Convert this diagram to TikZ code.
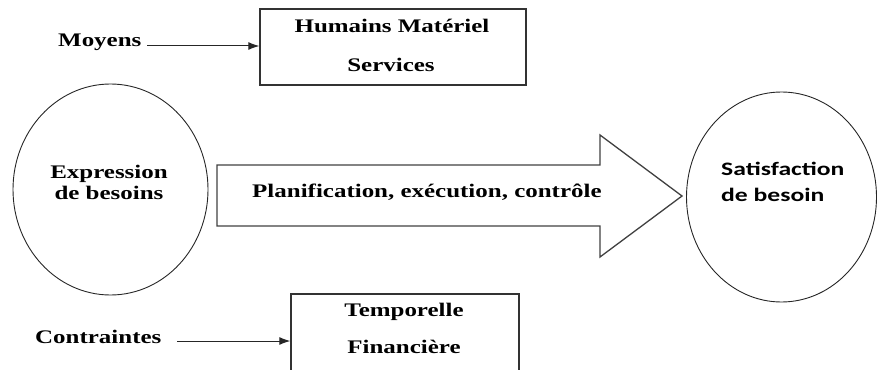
\documentclass[tikz,border=0pt]{standalone}
\usepackage{fontspec}
\setmainfont{Liberation Serif}[FakeStretch=1.3]
\newfontfamily\calib{Carlito}[FakeStretch=1.35]
\usetikzlibrary{arrows.meta,shapes.geometric}
\begin{document}
\begin{tikzpicture}[x=1pt,y=-1pt,
  lbl/.style={inner sep=0pt, font=\fontsize{19.2}{23}\selectfont\bfseries},
  sat/.style={inner sep=0pt, font=\fontsize{19}{23}\selectfont\calib\bfseries},
  boxnode/.style={draw=black!80, line width=1.4pt, inner sep=0pt},
  ell/.style={ellipse, draw=black!85, line width=0.9pt, inner sep=0pt},
  arr/.style={draw=black!85, line width=1pt, -{Latex[length=11pt,width=8pt]}},
  bigarrow/.style={draw=black!75, line width=1.3pt}]
\useasboundingbox (0,0) rectangle (877,369);
\clip (0,0) rectangle (877,369);

% top
\node[lbl, anchor=base west] (moyens) at (58,47) {Moyens};
\node[boxnode, minimum width=266pt, minimum height=76pt] (hm) at (393,47) {};
\node[lbl, anchor=base] (hm1) at (392,33) {Humains Matériel};
\node[lbl, anchor=base] (hm2) at (391,71) {Services};
\coordinate (ma) at (147,46);
\draw[arr] (ma) -- (ma -| hm.west);

% left ellipse
\node[ell, minimum width=195pt, minimum height=211pt] (exp) at (110.5,189.5) {};
\node[lbl, anchor=base] (exp1) at (109,178) {Expression};
\node[lbl, anchor=base] (exp2) at (109,199) {de besoins};

% big arrow
\draw[bigarrow] (217,165) -- (600,165) -- (600,135) -- (682,196) -- (600,257) -- (600,226) -- (217,226) -- cycle;
\node[lbl, anchor=base west] (plan) at (252,197) {Planification, exécution, contrôle};

% right ellipse
\node[ell, minimum width=190pt, minimum height=210pt] (sat) at (781.5,197) {};
\node[sat, anchor=base west] (sat1) at (721,175) {Satisfaction};
\node[sat, anchor=base west] (sat2) at (721,201) {de besoin};

% bottom
\node[lbl, anchor=base west] (contr) at (35,343) {Contraintes};
\node[boxnode, minimum width=228pt, minimum height=78pt] (tf) at (405,333) {};
\node[lbl, anchor=base] (tf1) at (404,316) {Temporelle};
\node[lbl, anchor=base] (tf2) at (404,353) {Financière};
\coordinate (ca) at (177,341);
\draw[arr] (ca) -- (ca -| tf.west);
\end{tikzpicture}
\end{document}
